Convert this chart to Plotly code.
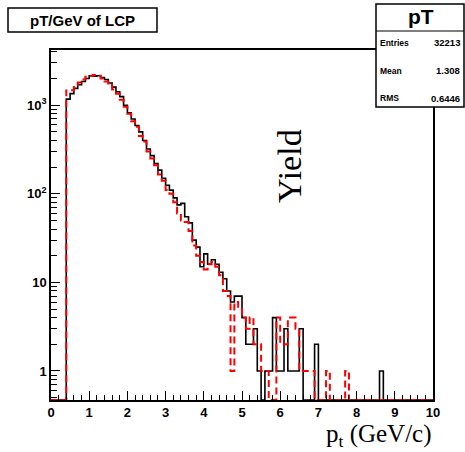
import plotly.graph_objects as go
import numpy as np

# ---------------- data ----------------
bin_width = 0.1
bin_lo = [round(0.1 * i, 1) for i in range(100)]  # lower edges 0.0 .. 9.9

black_counts = {
    0.4: 1170, 0.5: 1350, 0.6: 1550, 0.7: 1700, 0.8: 1850, 0.9: 2000,
    1.0: 2150, 1.1: 2120, 1.2: 2150, 1.3: 2050, 1.4: 1950, 1.5: 1780,
    1.6: 1600, 1.7: 1420, 1.8: 1250, 1.9: 1000, 2.0: 820, 2.1: 700,
    2.2: 590, 2.3: 500, 2.4: 400, 2.5: 320, 2.6: 270, 2.7: 220,
    2.8: 185, 2.9: 150, 3.0: 125, 3.1: 110, 3.2: 90, 3.3: 75,
    3.4: 78, 3.5: 55, 3.6: 47, 3.7: 30, 3.8: 25, 3.9: 15,
    4.0: 21, 4.1: 16, 4.2: 18, 4.3: 16, 4.4: 13, 4.5: 11,
    4.6: 8, 4.7: 6, 4.8: 7, 4.9: 7, 5.0: 4, 5.1: 2,
    5.2: 2, 5.3: 3, 5.4: 1, 5.5: 0, 5.6: 1, 5.7: 1,
    5.8: 4, 5.9: 1, 6.0: 1, 6.1: 3, 6.2: 1, 6.3: 1,
    6.4: 1, 6.5: 3, 6.9: 2, 8.6: 1,
}
red_counts = {
    0.4: 1470, 0.5: 1480, 0.6: 1700, 0.7: 1800, 0.8: 1950, 0.9: 2100,
    1.0: 2150, 1.1: 2200, 1.2: 2150, 1.3: 2000, 1.4: 1850, 1.5: 1700,
    1.6: 1500, 1.7: 1350, 1.8: 1150, 1.9: 960, 2.0: 800, 2.1: 660,
    2.2: 570, 2.3: 450, 2.4: 390, 2.5: 300, 2.6: 250, 2.7: 210,
    2.8: 165, 2.9: 140, 3.0: 110, 3.1: 100, 3.2: 80, 3.3: 60,
    3.4: 50, 3.5: 48, 3.6: 38, 3.7: 26, 3.8: 20, 3.9: 17,
    4.0: 14, 4.1: 16, 4.2: 17, 4.3: 15, 4.4: 12, 4.5: 8,
    4.6: 7, 4.7: 1, 4.8: 6, 4.9: 5, 5.0: 4, 5.1: 3,
    5.2: 4, 5.3: 2, 5.4: 2, 5.5: 1, 5.6: 1, 5.9: 4,
    6.0: 2, 6.1: 2, 6.2: 4, 6.3: 4, 6.4: 3, 6.5: 1,
    6.6: 1, 6.7: 1, 6.8: 1, 7.2: 1, 7.7: 1,
}

x_tick_vals = list(range(0, 11))
y_tick_vals = [1, 10, 100, 1000]
y_tick_text = ["1", "10", "10<sup>2</sup>", "10<sup>3</sup>"]

stats_labels = ["Entries", "Mean", "RMS"]
stats_values = ["32213", "1.308", "0.6446"]

# ---------------- geometry (pixels) ----------------
W, H = 465, 452
PL, PR, PT, PB = 51, 433, 50, 400
YMIN, YMAX = 0.47, 4200.0


def px(xp):
    return (xp - PL) / (PR - PL)


def py(yp):
    return (PB - yp) / (PB - PT)


def steps(counts):
    vals = [max(counts.get(b, 0), YMIN) for b in bin_lo]
    xs = bin_lo + [round(bin_lo[-1] + bin_width, 1)]
    ys = vals + [vals[-1]]
    return xs, ys


fig = go.Figure()
xr, yr = steps(red_counts)
xb, yb = steps(black_counts)
fig.add_trace(go.Scatter(x=xb, y=yb, mode="lines", line=dict(shape="hv", color="black", width=1.6),
                         hoverinfo="skip", showlegend=False))
fig.add_trace(go.Scatter(x=xr, y=yr, mode="lines", line=dict(shape="hv", color="#ff0000", width=2, dash="7px,4px"),
                         hoverinfo="skip", showlegend=False))

minor_y = [m * 10 ** d for d in range(-1, 4) for m in range(2, 10) if YMIN <= m * 10 ** d <= YMAX]

fig.update_layout(
    width=W, height=H,
    margin=dict(l=PL, r=W - PR, t=PT, b=H - PB),
    paper_bgcolor="white", plot_bgcolor="white",
    font=dict(family="Liberation Sans", color="black", size=12),
    xaxis=dict(range=[0, 10], tickmode="array", tickvals=x_tick_vals,
               ticks="inside", ticklen=9, tickwidth=1.3, tickcolor="black",
               tickfont=dict(size=13, weight="bold", family="Liberation Sans"),
               showline=True, linecolor="black", linewidth=1.5, mirror=True,
               showgrid=False, zeroline=False,
               minor=dict(dtick=0.2, tick0=0, ticks="inside", ticklen=5, tickwidth=1.2, tickcolor="black")),
    yaxis=dict(type="log", range=[np.log10(YMIN), np.log10(YMAX)], tickmode="array",
               tickvals=y_tick_vals, ticktext=y_tick_text,
               ticks="inside", ticklen=9, tickwidth=1.3, tickcolor="black",
               tickfont=dict(size=13, weight="bold", family="Liberation Sans"),
               showline=True, linecolor="black", linewidth=1.5, mirror=True,
               showgrid=False, zeroline=False,
               minor=dict(tickmode="array", tickvals=minor_y, ticks="inside", ticklen=6,
                          tickwidth=1.2, tickcolor="black")),
)

# title box
fig.add_shape(type="rect", xref="paper", yref="paper", x0=px(8), x1=px(157), y0=py(32), y1=py(8),
              line=dict(color="black", width=1.5), fillcolor="white")
fig.add_annotation(xref="paper", yref="paper", x=px(82.5), y=py(20), text="<b>pT/GeV of LCP</b>",
                   showarrow=False, font=dict(size=15, family="Liberation Sans"), xanchor="center", yanchor="middle")

# stats box
fig.add_shape(type="rect", xref="paper", yref="paper", x0=px(376), x1=px(464), y0=py(107), y1=py(4),
              line=dict(color="black", width=1.5), fillcolor="white")
fig.add_shape(type="line", xref="paper", yref="paper", x0=px(376), x1=px(464), y0=py(31), y1=py(31),
              line=dict(color="black", width=1.2))
fig.add_annotation(xref="paper", yref="paper", x=px(421), y=py(17), text="<b>pT</b>",
                   showarrow=False, font=dict(size=21, family="Liberation Sans"), xanchor="center", yanchor="middle")
for i, (lab, val) in enumerate(zip(stats_labels, stats_values)):
    yy = 43 + i * 27.5
    fig.add_annotation(xref="paper", yref="paper", x=px(378), y=py(yy), text="<b>%s</b>" % lab,
                       showarrow=False, font=dict(size=8.5, family="Liberation Sans"), xanchor="left", yanchor="middle")
    fig.add_annotation(xref="paper", yref="paper", x=px(462), y=py(yy), text="<b>%s</b>" % val,
                       showarrow=False, font=dict(size=9.5, family="Liberation Sans"), xanchor="right", yanchor="middle")

# axis titles
fig.add_annotation(xref="paper", yref="paper", x=px(289), y=py(166), text="Yield", textangle=-90,
                   showarrow=False, font=dict(size=34, family="Liberation Serif"), xanchor="center", yanchor="middle")
fig.add_annotation(xref="paper", yref="paper", x=px(433), y=py(452), text="p<sub>t</sub> (GeV/c)",
                   showarrow=False, font=dict(size=25, family="Liberation Serif"), xanchor="right", yanchor="bottom",
                   borderpad=0)

fig.write_html("out.html")
